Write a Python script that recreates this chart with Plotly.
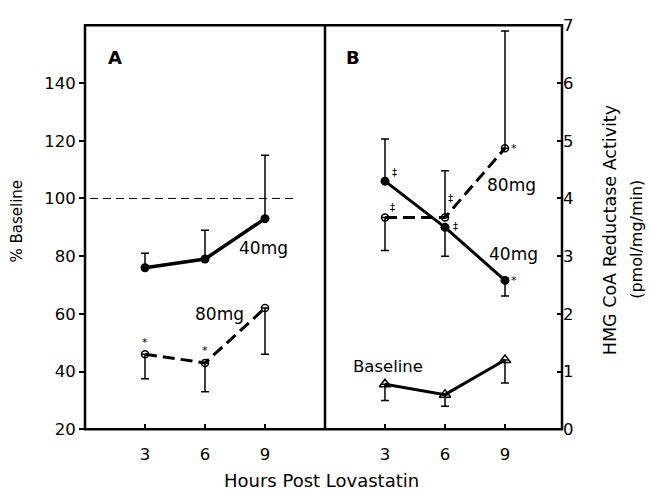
import plotly.graph_objects as go

# ---- data ----
hours = [3, 6, 9]

# Panel A: % Baseline
a_40_y = [76, 79, 93]
a_40_plus = [5, 10, 22]
a_80_y = [46, 43, 62]
a_80_minus = [8.5, 10, 16]

# Panel B: HMG CoA reductase activity (pmol/mg/min)
b_40_y = [4.3, 3.5, 2.58]
b_40_plus = [0.73, 0, 0]
b_40_minus = [0, 0.5, 0.27]
b_80_y = [3.67, 3.67, 4.87]
b_80_plus = [0, 0.81, 2.03]
b_80_minus = [0.57, 0, 0]
base_y = [0.78, 0.6, 1.2]
base_minus = [0.28, 0.2, 0.4]

left_ticks = [20, 40, 60, 80, 100, 120, 140]
right_ticks = [0, 1, 2, 3, 4, 5, 6, 7]
x_ticks = [3, 6, 9]

W, H = 652, 496
FONT = "DejaVu Sans"
def px(x):
    return x / W
def py(y):
    return 1 - y / H

fig = go.Figure()

def err(plus, minus):
    return dict(type="data", symmetric=False, array=plus, arrayminus=minus,
                color="black", thickness=1.5, width=4)

zeros = [0, 0, 0]

# Panel A
fig.add_trace(go.Scatter(x=hours, y=a_40_y, mode="lines+markers", xaxis="x", yaxis="y",
                         line=dict(color="black", width=3.5),
                         marker=dict(symbol="circle", size=9, color="black"),
                         error_y=err(a_40_plus, zeros), showlegend=False))
fig.add_trace(go.Scatter(x=hours, y=a_80_y, mode="lines+markers", xaxis="x", yaxis="y",
                         line=dict(color="black", width=3, dash="12px,6px"),
                         marker=dict(symbol="circle-open", size=7, color="black", line=dict(width=1.5)),
                         error_y=err(zeros, a_80_minus), showlegend=False))

# Panel B
fig.add_trace(go.Scatter(x=hours, y=b_40_y, mode="lines+markers", xaxis="x2", yaxis="y2",
                         line=dict(color="black", width=3),
                         marker=dict(symbol="circle", size=9, color="black"),
                         error_y=err(b_40_plus, b_40_minus), showlegend=False))
fig.add_trace(go.Scatter(x=hours, y=b_80_y, mode="lines+markers", xaxis="x2", yaxis="y2",
                         line=dict(color="black", width=3, dash="12px,6px"),
                         marker=dict(symbol="circle-open", size=7, color="black", line=dict(width=1.5)),
                         error_y=err(b_80_plus, b_80_minus), showlegend=False))
fig.add_trace(go.Scatter(x=hours, y=base_y, mode="lines+markers", xaxis="x2", yaxis="y2",
                         line=dict(color="black", width=3),
                         marker=dict(symbol="triangle-up-open", size=10, color="black", line=dict(width=1.5)),
                         error_y=err(zeros, base_minus), showlegend=False))

# 100% reference line
fig.add_shape(type="line", xref="x", yref="y", x0=0.25, x1=10.5, y0=100, y1=100,
              line=dict(color="black", width=1, dash="8px,5px"))

# frame: outer box and divider between panels
fig.add_shape(type="rect", xref="paper", yref="paper", x0=px(85), x1=px(562), y0=py(437), y1=py(17),
              line=dict(color="black", width=2.5), fillcolor="rgba(0,0,0,0)", layer="above")
fig.add_shape(type="line", xref="paper", yref="paper", x0=px(325), x1=px(325), y0=py(437), y1=py(17),
              line=dict(color="black", width=2.5), layer="above")

axis_common = dict(showline=False, showgrid=False, zeroline=False,
                   tickfont=dict(family=FONT, size=16.5, color="black"))

fig.update_layout(
    width=W, height=H, margin=dict(l=0, r=0, t=0, b=0),
    paper_bgcolor="white", plot_bgcolor="white",
    xaxis=dict(domain=[px(85), px(325)], range=[0, 12], anchor="y",
               tickvals=x_ticks, ticks="inside", ticklen=5, tickwidth=1.5, tickcolor="black",
               ticklabelstandoff=13, **axis_common),
    yaxis=dict(domain=[py(437), py(17)], range=[20, 160], anchor="x",
               tickvals=left_ticks, ticks="outside", ticklen=5, tickwidth=1.5, tickcolor="black",
               **axis_common),
    xaxis2=dict(domain=[px(325), px(562)], range=[0, 11.85], anchor="y2",
                tickvals=x_ticks, ticks="inside", ticklen=5, tickwidth=1.5, tickcolor="black",
                ticklabelstandoff=13, **axis_common),
    yaxis2=dict(domain=[py(437), py(17)], range=[0, 7], anchor="x2", side="right",
                tickvals=right_ticks, ticks="inside", ticklen=5, tickwidth=1.5, tickcolor="black",
                **axis_common),
)

def ann(text, x, y, size=15, bold=False, angle=0, xref="paper", yref="paper", **kw):
    t = f"<b>{text}</b>" if bold else text
    fig.add_annotation(text=t, x=x, y=y, xref=xref, yref=yref, showarrow=False,
                       xanchor="center", yanchor="middle",
                       textangle=angle, font=dict(family=FONT, size=size, color="black"), **kw)

# panel letters
ann("A", px(115), py(50), size=18, bold=True)
ann("B", px(353), py(50), size=18, bold=True)
# series labels
ann("40mg", px(263), py(248), size=17)
ann("80mg", px(219), py(317), size=17)
ann("80mg", px(511), py(183), size=17)
ann("40mg", px(513), py(255), size=17)
ann("Baseline", px(388), py(372), size=16.5)
# axis titles
ann("% Baseline", px(17), py(221), size=15, angle=-90)
ann("HMG CoA Reductase Activity", px(610), py(230), size=17.5, angle=-90)
ann("(pmol/mg/min)", px(637), py(240), size=16, angle=-90)
ann("Hours Post Lovastatin", px(321), py(490), size=18)

# significance marks
for xi, yi in [(3, a_80_y[0]), (6, a_80_y[1])]:
    ann("*", xi, yi, size=11, xref="x", yref="y", yshift=12)
ann("‡", 3, b_40_y[0], size=10, xref="x2", yref="y2", xshift=9, yshift=9)
ann("‡", 3, b_80_y[0], size=10, xref="x2", yref="y2", xshift=7, yshift=10)
ann("‡", 6, b_80_y[1], size=10, xref="x2", yref="y2", xshift=5, yshift=19)
ann("‡", 6, b_40_y[1], size=10, xref="x2", yref="y2", xshift=10, yshift=1)
ann("*", 9, b_80_y[2], size=11, xref="x2", yref="y2", xshift=9, yshift=0)
ann("*", 9, b_40_y[2], size=11, xref="x2", yref="y2", xshift=9, yshift=0)

fig.write_html("out.html")
